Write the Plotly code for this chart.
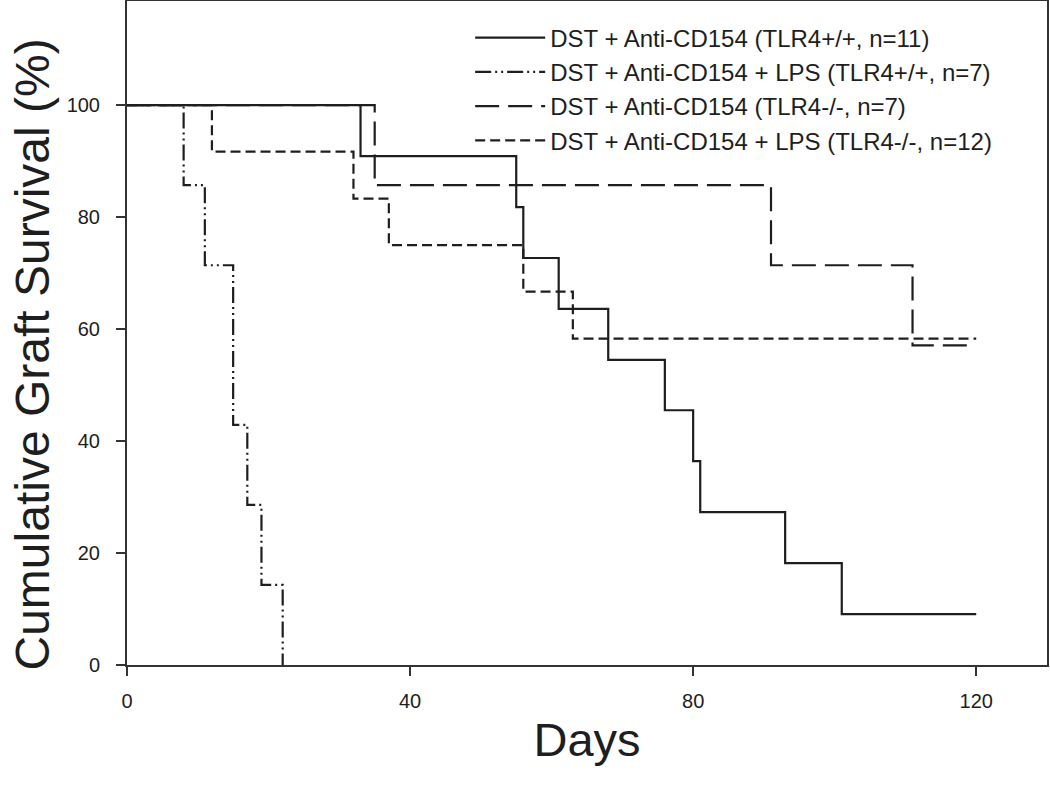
import plotly.graph_objects as go

# Data (Kaplan-Meier step curves)
days_wt = [0, 33, 55, 56, 61, 68, 76, 80, 81, 93, 101, 120]
surv_wt = [100, 90.9, 81.8, 72.7, 63.6, 54.5, 45.5, 36.4, 27.3, 18.2, 9.1, 9.1]

days_wt_lps = [0, 8, 11, 15, 17, 19, 22]
surv_wt_lps = [100, 85.7, 71.4, 42.9, 28.6, 14.3, 0]

days_ko = [0, 35, 91, 111, 119]
surv_ko = [100, 85.7, 71.4, 57.1, 57.1]

days_ko_lps = [0, 12, 32, 37, 56, 63, 120]
surv_ko_lps = [100, 91.7, 83.3, 75, 66.7, 58.3, 58.3]

names = [
    "DST + Anti-CD154 (TLR4+/+, n=11)",
    "DST + Anti-CD154 + LPS (TLR4+/+, n=7)",
    "DST + Anti-CD154 (TLR4-/-, n=7)",
    "DST + Anti-CD154 + LPS (TLR4-/-, n=12)",
]
x_ticks = [0, 40, 80, 120]
y_ticks = [0, 20, 40, 60, 80, 100]

series = [
    (days_wt, surv_wt, "solid"),
    (days_wt_lps, surv_wt_lps, "16px,4px,2px,4px,2px,4px"),
    (days_ko, surv_ko, "24px,9px"),
    (days_ko_lps, surv_ko_lps, "10px,5px"),
]

FONT = "Liberation Sans, Arial, sans-serif"
INK = "#1e1e1e"

fig = go.Figure()
for (x, y, dash), name in zip(series, names):
    fig.add_trace(go.Scatter(
        x=x, y=y, mode="lines", name=name,
        line=dict(shape="hv", color=INK, width=2.2, dash=dash),
    ))

fig.update_layout(
    width=1050, height=788,
    margin=dict(l=127, r=3, t=1, b=123),
    paper_bgcolor="white", plot_bgcolor="white",
    font=dict(family=FONT, color=INK),
    showlegend=True,
    legend=dict(
        x=0.373, xanchor="left", y=0.978, yanchor="top",
        bgcolor="rgba(0,0,0,0)", borderwidth=0,
        font=dict(family=FONT, size=24, color=INK),
        itemwidth=70, tracegroupgap=0,
    ),
    xaxis=dict(
        range=[0, 130], tickvals=x_ticks, ticktext=[str(v) for v in x_ticks],
        showgrid=False, zeroline=False,
        showline=True, linecolor="#333", linewidth=2, mirror=True,
        ticks="outside", ticklen=9, tickwidth=1.5, tickcolor="#333",
        tickfont=dict(family=FONT, size=20, color=INK),
        ticklabelstandoff=8,
        title=dict(text="Days", font=dict(family=FONT, size=47, color=INK), standoff=12),
        automargin=False,
    ),
    yaxis=dict(
        range=[0, 118.6], tickvals=y_ticks, ticktext=[str(v) for v in y_ticks],
        showgrid=False, zeroline=False,
        showline=True, linecolor="#333", linewidth=2, mirror=True,
        ticks="outside", ticklen=9, tickwidth=1.5, tickcolor="#333",
        tickfont=dict(family=FONT, size=20, color=INK),
        ticklabelstandoff=12,
        automargin=False,
    ),
    annotations=[dict(
        text="Cumulative Graft Survival (%)", textangle=-90,
        xref="paper", yref="paper", x=-0.103, y=0.468,
        xanchor="center", yanchor="middle", showarrow=False,
        font=dict(family=FONT, size=48, color=INK),
    )],
)

fig.write_html(
    "out.html",
    config={"displayModeBar": False},
    post_script="document.body.style.margin='0';document.body.style.overflow='hidden';",
)
